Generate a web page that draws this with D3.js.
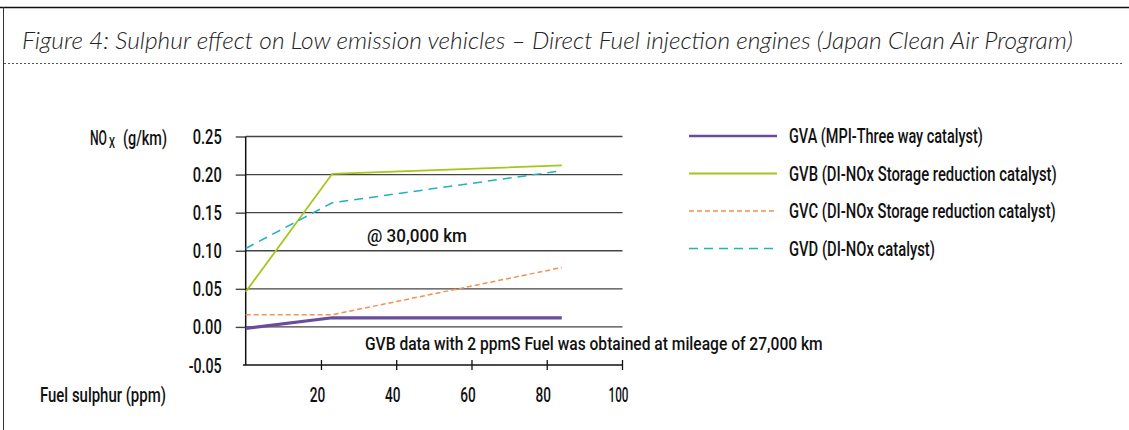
<!doctype html>
<html>
<head>
  <title>Figure 4: Sulphur effect on Low emission vehicles</title>
  <meta charset="UTF-8">
  <script src="https://d3js.org/d3.v7.min.js"></script>
  <style>
    body { margin: 0; background: #fff; }
    text { font-family: Roboto, "Liberation Sans", sans-serif; font-weight: 500; fill: #111; }
    text.title { font-family: Lato, "Open Sans", sans-serif; font-style: italic; font-weight: 300; fill: #222; }
  </style>
</head>
<body>
<div id="svg_area"></div>
<script>
// values (fuel sulphur ppm vs NOx g/km @ 30,000 km)
var fuelSulphur = [0, 23, 84];
var gva = [-0.002, 0.012, 0.012];
var gvb = [0.046, 0.201, 0.212];
var gvc = [0.016, 0.016, 0.078];
var gvd = [0.103, 0.163, 0.205];
var seriesNames = ["GVA (MPI-Three way catalyst)", "GVB (DI-NOx Storage reduction catalyst)",
                   "GVC (DI-NOx Storage reduction catalyst)", "GVD (DI-NOx catalyst)"];
var yTicks = [-0.05, 0, 0.05, 0.10, 0.15, 0.20, 0.25];
var xTicks = [20, 40, 60, 80, 100];

// styling for each series
var colours = ["#6a4c9c", "#a5c61a", "#f59050", "#22b0c4"];
var dashes = [null, null, "5,3", "9,6"];
var widths = [3.2, 1.8, 1.5, 1.5];
var legendWidths = [194, 268, 267, 146];

var allSeries = [gva, gvb, gvc, gvd];

var svg = d3.select("#svg_area").append("svg")
    .attr("width", 1129)
    .attr("height", 430);

// put a text at (x, y) and squeeze it sideways to width w (condensed font look)
function fitText(parent, str, x, y, w, size, cls) {
  var t = parent.append("text").attr("class", cls || null)
      .style("font-size", size + "px").text(str);
  var natural = t.node().getComputedTextLength();
  t.attr("transform", "translate(" + x + "," + y + ") scale(" + (w / natural) + ",1)");
  return t;
}

// frame and header
svg.append("line").attr("x1", 0).attr("x2", 1129).attr("y1", 7.5).attr("y2", 7.5)
    .attr("stroke", "#111").attr("stroke-width", 1.5);
svg.append("line").attr("x1", 3.5).attr("x2", 3.5).attr("y1", 7).attr("y2", 430)
    .attr("stroke", "#333").attr("stroke-width", 1);
svg.append("line").attr("x1", 4).attr("x2", 1123).attr("y1", 63.5).attr("y2", 63.5)
    .attr("stroke", "#555").attr("stroke-width", 1).attr("stroke-dasharray", "2,2");

fitText(svg, "Figure 4: Sulphur effect on Low emission vehicles \u2013 Direct Fuel injection engines (Japan Clean Air Program)",
        22, 49, 1051, 23, "title");

// scales
var x = d3.scaleLinear().domain([0, 100]).range([245.7, 622]);
var y = d3.scaleLinear().domain([-0.05, 0.25]).range([365, 136.5]);

// gridlines
svg.append("g").selectAll("line")
    .data(yTicks.slice(1))
    .enter().append("line")
    .attr("x1", x(0)).attr("x2", 622.5)
    .attr("y1", function(d) { return y(d); })
    .attr("y2", function(d) { return y(d); })
    .attr("stroke", "#444").attr("stroke-width", 1.4);

// y axis
var yAxis = d3.axisLeft(y)
    .tickValues(yTicks)
    .tickSizeInner(10).tickSizeOuter(0).tickPadding(14)
    .tickFormat(function(d) { return d.toFixed(2); });

var gy = svg.append("g")
    .attr("transform", "translate(" + x(0) + ",0)")
    .call(yAxis);
gy.select(".domain").remove();
gy.selectAll("line").attr("stroke", "#444").attr("stroke-width", 1.4)
    .filter(function(d) { return d === -0.05; }).remove();
gy.selectAll("text")
    .attr("font-family", null).attr("font-size", null)
    .style("font-size", "19.5px").attr("dy", "0.36em")
    .attr("textLength", function(d) { return d < 0 ? 33 : 29; })
    .attr("lengthAdjust", "spacingAndGlyphs");

svg.append("line")
    .attr("x1", x(0)).attr("x2", x(0)).attr("y1", y(0.25)).attr("y2", y(-0.05))
    .attr("stroke", "#111").attr("stroke-width", 1.5);

// x axis
var xAxis = d3.axisBottom(x)
    .tickValues(xTicks)
    .tickSizeInner(5).tickSizeOuter(0)
    .tickFormat(d3.format("d"));

var gx = svg.append("g")
    .attr("transform", "translate(0," + y(-0.05) + ")")
    .call(xAxis);
gx.select(".domain").remove();
gx.selectAll("line").attr("y1", -5).attr("stroke", "#111").attr("stroke-width", 1.3);
gx.selectAll("text")
    .attr("font-family", null).attr("font-size", null)
    .style("font-size", "19.5px")
    .attr("y", 36.5).attr("dy", null).attr("dx", -4)
    .attr("textLength", function(d) { return d < 100 ? 15.5 : 20; })
    .attr("lengthAdjust", "spacingAndGlyphs");

svg.append("line")
    .attr("x1", 243).attr("x2", 622.5).attr("y1", y(-0.05)).attr("y2", y(-0.05))
    .attr("stroke", "#111").attr("stroke-width", 1.5);

// axis titles
fitText(svg, "NO", 90, 145, 17, 19.5);
fitText(svg, "X", 109, 148, 6, 14);
fitText(svg, "(g/km)", 123, 145, 44, 19.5);
fitText(svg, "Fuel sulphur (ppm)", 40, 401.5, 126, 19.5);

// series lines
var line = d3.line()
    .x(function(d, i) { return x(fuelSulphur[i]); })
    .y(function(d) { return y(d); });

svg.append("g").selectAll("path")
    .data(allSeries)
    .enter().append("path")
    .attr("d", function(d) { return line(d); })
    .attr("fill", "none")
    .attr("stroke", function(d, i) { return colours[i]; })
    .attr("stroke-width", function(d, i) { return widths[i]; })
    .attr("stroke-dasharray", function(d, i) { return dashes[i]; });

// annotations
fitText(svg, "@ 30,000 km", 367, 241.5, 100, 17.5);
fitText(svg, "GVB data with 2 ppmS Fuel was obtained at mileage of 27,000 km", 365, 350, 458, 17.5);

// legend
var legendRows = [136, 173.5, 211, 248.5];
var legend = svg.append("g");

seriesNames.forEach(function(name, i) {
  legend.append("line")
      .attr("x1", 689).attr("x2", 777)
      .attr("y1", legendRows[i]).attr("y2", legendRows[i])
      .attr("stroke", colours[i])
      .attr("stroke-width", Math.min(widths[i], 2.6))
      .attr("stroke-dasharray", dashes[i]);
  fitText(legend, name, 789, legendRows[i] + 7, legendWidths[i], 19.5);
});
</script>
</body>
</html>
